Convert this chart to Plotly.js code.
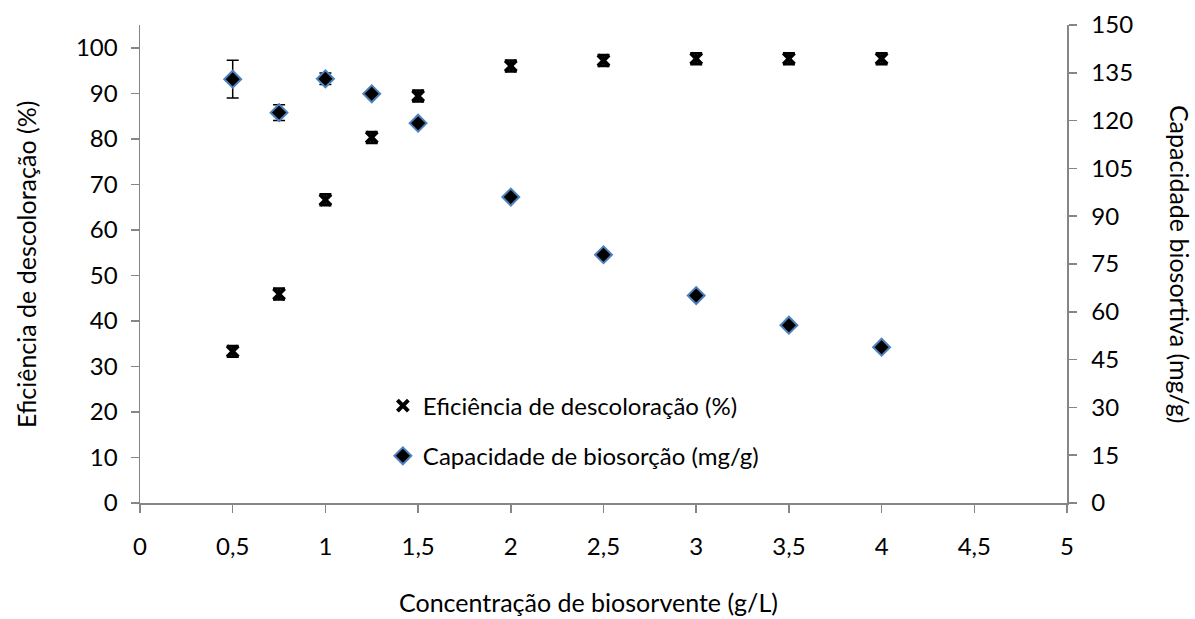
<!DOCTYPE html>
<html>
<head>
<meta charset="utf-8">
<script src="https://cdn.plot.ly/plotly-3.0.1.min.js"></script>
<style>
  html, body { margin: 0; padding: 0; background: #fff; }
  #chart { width: 1195px; height: 619px; }
</style>
</head>
<body>
<div id="chart"></div>
<script>
// Concentração de biosorvente (g/L)
const concentracao = [0.5, 0.75, 1, 1.25, 1.5, 2, 2.5, 3, 3.5, 4];
// Eficiência de descoloração (%) — eixo esquerdo
const eficiencia = [33.3, 45.9, 66.6, 80.3, 89.4, 96.0, 97.2, 97.6, 97.6, 97.6];
const eficienciaErro = [1.2, 1.2, 1.2, 1.2, 1.2, 1.2, 1.2, 1.2, 1.2, 1.2];
// Capacidade de biosorção (mg/g) — eixo direito
const capacidade = [133.0, 122.5, 133.1, 128.4, 119.2, 96.0, 77.9, 65.1, 55.8, 48.9];
const capacidadeErro = [5.9, 2.5, 1.8, 0, 0, 0, 0, 0, 0, 0];

const xTicks = [0, 0.5, 1, 1.5, 2, 2.5, 3, 3.5, 4, 4.5, 5];
const yLeftTicks = [0, 10, 20, 30, 40, 50, 60, 70, 80, 90, 100];
const yRightTicks = [0, 15, 30, 45, 60, 75, 90, 105, 120, 135, 150];

const FONT = 'Lato, "Open Sans", sans-serif';
const FS = 24;
const AXIS_GREY = '#868686';

const traces = [
  {
    name: 'Eficiência de descoloração (%)',
    x: concentracao,
    y: eficiencia,
    yaxis: 'y',
    type: 'scatter',
    mode: 'markers',
    legendgroup: 'a',
    marker: { symbol: 'x-thin-open', size: 11, color: '#000', line: { color: '#000', width: 4 } },
    error_y: { type: 'data', array: eficienciaErro, visible: true, color: '#000', thickness: 2.5, width: 6 }
  },
  {
    name: 'Capacidade de biosorção (mg/g)',
    x: concentracao,
    y: capacidade,
    yaxis: 'y2',
    type: 'scatter',
    mode: 'markers',
    legendgroup: 'b',
    marker: { symbol: 'diamond', size: 13, color: '#000', line: { color: '#4F81BD', width: 2 } },
    error_y: { type: 'data', array: capacidadeErro, visible: true, color: '#000', thickness: 1.5, width: 6 }
  }
];

const layout = {
  width: 1195,
  height: 619,
  paper_bgcolor: '#fff',
  plot_bgcolor: '#fff',
  separators: ',.',
  font: { family: FONT, size: FS, color: '#000' },
  margin: { l: 140, r: 128, t: 25, b: 116, pad: 0 },
  showlegend: true,
  legend: {
    x: 0.262, xanchor: 'left',
    y: 0.25, yanchor: 'top',
    bgcolor: 'rgba(0,0,0,0)',
    font: { family: FONT, size: FS, color: '#000' },
    traceorder: 'grouped',
    tracegroupgap: 16,
    itemwidth: 30
  },
  xaxis: {
    range: [0, 5],
    tickvals: xTicks,
    ticks: 'outside', ticklen: 8, tickwidth: 1.5, tickcolor: AXIS_GREY,
    showline: true, linecolor: AXIS_GREY, linewidth: 1.5,
    showgrid: false, zeroline: false,
    ticklabelstandoff: 14,
    tickfont: { family: FONT, size: FS, color: '#000' }
  },
  yaxis: {
    range: [0, 105],
    tickvals: yLeftTicks,
    ticks: 'outside', ticklen: 8, tickwidth: 1.5, tickcolor: AXIS_GREY,
    showline: true, linecolor: AXIS_GREY, linewidth: 1.5,
    showgrid: false, zeroline: false,
    ticklabelstandoff: 8,
    tickfont: { family: FONT, size: FS, color: '#000' }
  },
  yaxis2: {
    range: [0, 150],
    tickvals: yRightTicks,
    overlaying: 'y', side: 'right',
    ticks: 'outside', ticklen: 8, tickwidth: 1.5, tickcolor: AXIS_GREY,
    showline: true, linecolor: AXIS_GREY, linewidth: 1.5,
    showgrid: false, zeroline: false,
    ticklabelstandoff: 10,
    tickfont: { family: FONT, size: FS, color: '#000' }
  },
  annotations: [
    {
      text: 'Concentração de biosorvente (g/L)',
      xref: 'paper', yref: 'paper', x: 0.484, y: -0.207,
      xanchor: 'center', yanchor: 'middle', showarrow: false,
      font: { family: FONT, size: 25, color: '#000' }
    },
    {
      text: 'Eficiência de descoloração (%)',
      xref: 'paper', yref: 'paper', x: -0.123, y: 0.5,
      xanchor: 'center', yanchor: 'middle', showarrow: false, textangle: -90,
      font: { family: FONT, size: 25, color: '#000' }
    },
    {
      text: 'Capacidade biosortiva (mg/g)',
      xref: 'paper', yref: 'paper', x: 1.122, y: 0.5,
      xanchor: 'center', yanchor: 'middle', showarrow: false, textangle: 90,
      font: { family: FONT, size: 25, color: '#000' }
    }
  ]
};

Plotly.newPlot('chart', traces, layout, { displayModeBar: false, staticPlot: true });
</script>
</body>
</html>
